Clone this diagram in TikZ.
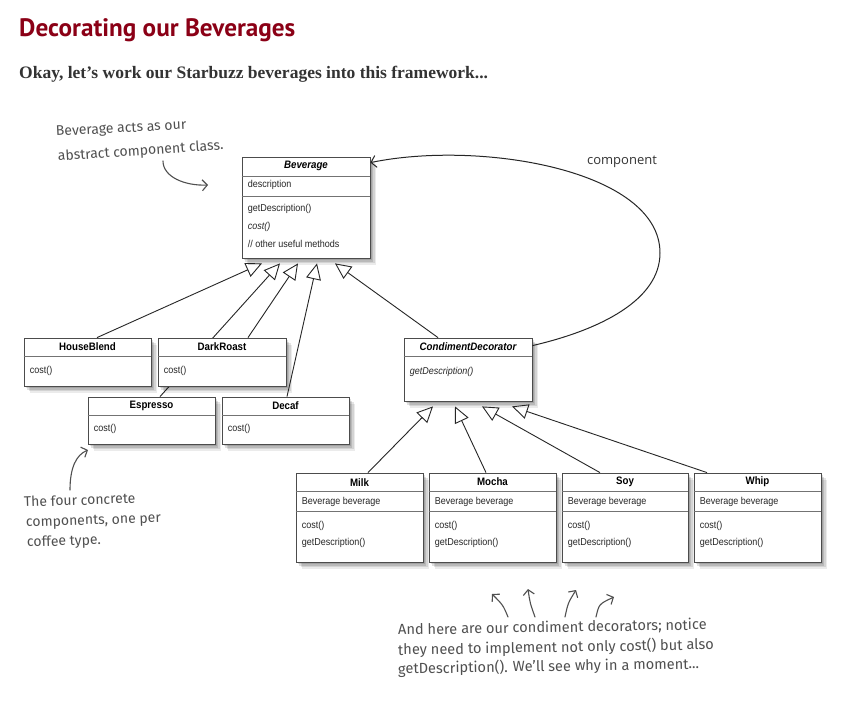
\documentclass[tikz,border=0pt]{standalone}
\usepackage{fontspec}
\setmainfont{Liberation Serif}
\newfontfamily\umlf[FakeStretch=0.9]{Liberation Sans}
\newfontfamily\handf{Fira Sans}
\newfontfamily\titlef{PT Sans}
\newfontfamily\compf{Open Sans}
\usetikzlibrary{arrows.meta,shadows}
\definecolor{titlered}{RGB}{139,0,22}
\definecolor{subgray}{RGB}{51,51,51}
\definecolor{handgray}{RGB}{80,80,80}
\pgfdeclarelayer{bg}
\pgfsetlayers{bg,main}
\newcommand{\umlbox}[5]{\node[cls, minimum width={(#4-#2)*1pt}, minimum height={(#5-#3)*1pt}] (#1) at ({(#2+#4)/2},{(#3+#5)/2}) {};}
\newcommand{\udiv}[2]{\draw[divline] ([yshift=-#2pt]#1.north west) -- ([yshift=-#2pt]#1.north east);}
\newcommand{\utitle}[4]{\node[ttl] (#1) at ([yshift=-#3pt]#2.north) {#4};}
\newcommand{\uitem}[4]{\node[itm] (#1) at ([xshift=6pt,yshift=-#3pt]#2.north west) {#4};}
\begin{document}
\begin{tikzpicture}[x=1pt,y=-1pt,
  shadowed/.style={
    general shadow={fill=black, opacity=0.12, shadow xshift=1.5pt, shadow yshift=-2pt},
    general shadow={fill=black, opacity=0.12, shadow xshift=3pt, shadow yshift=-3.5pt},
    general shadow={fill=black, opacity=0.10, shadow xshift=4.5pt, shadow yshift=-5pt},
    general shadow={fill=black, opacity=0.08, shadow xshift=6pt, shadow yshift=-6.5pt}},
  cls/.style={shadowed, rectangle, draw=black!70, line width=0.8pt, fill=white, inner sep=0pt},
  divline/.style={draw=black!55, line width=0.8pt},
  ttl/.style={font=\umlf\bfseries\fontsize{10.8}{12}\selectfont, inner sep=0pt, anchor=center},
  itm/.style={font=\umlf\fontsize{10}{12}\selectfont, inner sep=0pt, anchor=west, text=black!85},
  inh/.style={draw=black!85, line width=0.9pt, -{Triangle[open, length=16pt, width=15pt]}},
  comp/.style={draw=black!85, line width=1pt, -{Straight Barb[length=5pt, width=12pt]}},
  hnote/.style={font=\handf\fontsize{14}{19}\selectfont, text=handgray, inner sep=0pt, anchor=base west},
  handarrow/.style={draw=handgray, line width=1.1pt, line cap=round, -{Straight Barb[length=5pt, width=11pt]}}
]
\useasboundingbox (0,0) rectangle (847,701);
\begin{pgfonlayer}{bg}
\fill[white] (0,0) rectangle (847,701);
\end{pgfonlayer}

% headings
\node[anchor=base west, inner sep=0pt, font=\titlef\bfseries\fontsize{25.2}{28}\selectfont, text=titlered] (title) at (19,37) {Decorating our Beverages};
\node[anchor=base west, inner sep=0pt, font=\bfseries\fontsize{17.5}{20}\selectfont, text=subgray] (sub) at (19,79) {Okay, let’s work our Starbuzz beverages into this framework...};

% class boxes
\umlbox{bev}{242}{157}{370}{258}
\umlbox{hb}{24}{338}{151}{386}
\umlbox{dr}{158}{338}{286}{386}
\umlbox{esp}{88}{397}{215}{444}
\umlbox{dec}{222}{397}{349}{444}
\umlbox{cd}{404}{338}{532}{401}
\umlbox{milk}{296}{473}{423}{562}
\umlbox{mocha}{429}{473}{556}{562}
\umlbox{soy}{562}{473}{688}{562}
\umlbox{whip}{694}{473}{821}{562}

% Beverage
\udiv{bev}{19.5}
\udiv{bev}{39.5}
\utitle{bev-t}{bev}{9.5}{\itshape Beverage}
\uitem{bev-d}{bev}{28}{description}
\uitem{bev-m1}{bev}{52}{getDescription()}
\uitem{bev-m2}{bev}{70}{\itshape cost()}
\uitem{bev-m3}{bev}{87}{// other useful methods}

% concrete components
\udiv{hb}{19}
\utitle{hb-t}{hb}{9.5}{HouseBlend}
\uitem{hb-m}{hb}{33}{cost()}
\udiv{dr}{19}
\utitle{dr-t}{dr}{9.5}{DarkRoast}
\uitem{dr-m}{dr}{33}{cost()}
\udiv{esp}{19}
\utitle{esp-t}{esp}{9.5}{Espresso}
\uitem{esp-m}{esp}{32}{cost()}
\udiv{dec}{19}
\utitle{dec-t}{dec}{9.5}{Decaf}
\uitem{dec-m}{dec}{32}{cost()}

% condiment decorator
\udiv{cd}{19}
\utitle{cd-t}{cd}{9.5}{\itshape CondimentDecorator}
\uitem{cd-m}{cd}{34}{\itshape getDescription()}

% decorators
\foreach \b/\n in {milk/Milk, mocha/Mocha, soy/Soy, whip/Whip}{
  \udiv{\b}{19}
  \udiv{\b}{39}
  \utitle{\b-t}{\b}{9.5}{\n}
  \uitem{\b-f}{\b}{29}{Beverage beverage}
  \uitem{\b-m1}{\b}{53}{cost()}
  \uitem{\b-m2}{\b}{70}{getDescription()}
}

% inheritance connectors to Beverage
\begin{pgfonlayer}{bg}
\draw[inh] ([xshift=8.5pt]esp.north) -- ([xshift=-26pt,yshift=-5pt]bev.south);
\end{pgfonlayer}
\draw[inh] ([xshift=9.5pt]hb.north) -- ([xshift=-44pt,yshift=-5pt]bev.south);
\draw[inh] ([xshift=26pt]dr.north) -- ([xshift=-8pt,yshift=-5pt]bev.south);
\draw[inh] ([xshift=1.5pt]dec.north) -- ([xshift=11pt,yshift=-5pt]bev.south);
\draw[inh] ([xshift=-30pt]cd.north) -- ([xshift=29pt,yshift=-5pt]bev.south);

% inheritance connectors to CondimentDecorator
\draw[inh] ([xshift=8.5pt]milk.north) -- ([xshift=-35pt,yshift=-5pt]cd.south);
\draw[inh] ([xshift=-6.5pt]mocha.north) -- ([xshift=-13pt,yshift=-5pt]cd.south);
\draw[inh] ([xshift=-25pt]soy.north) -- ([xshift=14pt,yshift=-5pt]cd.south);
\draw[inh] ([xshift=-50.5pt]whip.north) -- ([xshift=44pt,yshift=-5pt]cd.south);

% component association
\draw[comp] ([yshift=-8pt]cd.north east) .. controls (600,330) and (660,300) .. (660,253) .. controls (660,170) and (480,140) .. ([yshift=-6pt]bev.north east);
\node[font=\compf\fontsize{13}{15}\selectfont, text=black!80, inner sep=0pt] (complabel) at (622,162) {component};

% handwritten notes
\node[hnote, rotate=3] (note1a) at (56,136) {Beverage acts as our};
\node[hnote, rotate=4] (note1b) at (58,161) {abstract component class.};
\coordinate (n1s) at (163,161);
\coordinate (n1e) at (208,185);
\draw[handarrow] (n1s) .. controls (163,177) and (185,186) .. (n1e);

\node[hnote, rotate=2] (note2a) at (24,507) {The four concrete};
\node[hnote, rotate=2] (note2b) at (26,527) {components, one per};
\node[hnote, rotate=2] (note2c) at (27,547) {coffee type.};
\coordinate (n2s) at (70,490);
\coordinate (n2e) at (88,450);
\draw[handarrow] (n2s) .. controls (70,468) and (76,455) .. (n2e);

\node[hnote, font=\handf\fontsize{14.6}{20}\selectfont, rotate=1] (note3a) at (398,635) {And here are our condiment decorators; notice};
\node[hnote, font=\handf\fontsize{14.6}{20}\selectfont, rotate=1] (note3b) at (398,655) {they need to implement not only cost() but also};
\node[hnote, font=\handf\fontsize{14.6}{20}\selectfont, rotate=1] (note3c) at (398,674) {getDescription(). We’ll see why in a moment...};
\coordinate (a1s) at (508,617); \coordinate (a1e) at (492,594);
\coordinate (a2s) at (535,617); \coordinate (a2e) at (528,589);
\coordinate (a3s) at (565,617); \coordinate (a3e) at (576,590);
\coordinate (a4s) at (596,617); \coordinate (a4e) at (614,597);
\draw[handarrow] (a1s) .. controls (503,605) .. (a1e);
\draw[handarrow] (a2s) .. controls (530,603) .. (a2e);
\draw[handarrow] (a3s) .. controls (568,603) .. (a3e);
\draw[handarrow] (a4s) .. controls (599,604) .. (a4e);
\end{tikzpicture}
\end{document}
